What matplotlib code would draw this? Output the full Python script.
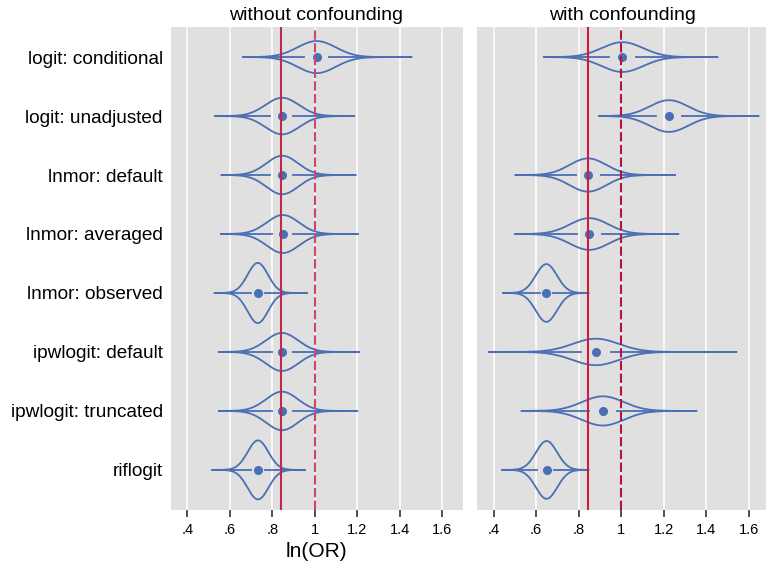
import numpy as np
import matplotlib
matplotlib.use("Agg")
import matplotlib.pyplot as plt

plt.rcParams['font.family'] = ['Liberation Sans', 'DejaVu Sans']

# ---------------- data ----------------
methods = ["logit: conditional", "logit: unadjusted", "lnmor: default",
           "lnmor: averaged", "lnmor: observed", "ipwlogit: default",
           "ipwlogit: truncated", "riflogit"]
panel_titles = ["without confounding", "with confounding"]

# without confounding
wo_median = [1.008, 0.846, 0.846, 0.849, 0.731, 0.845, 0.845, 0.732]
wo_q1     = [0.950, 0.789, 0.790, 0.796, 0.698, 0.796, 0.796, 0.700]
wo_q3     = [1.068, 0.898, 0.895, 0.898, 0.765, 0.896, 0.896, 0.767]
wo_lo     = [0.663, 0.529, 0.561, 0.559, 0.528, 0.548, 0.548, 0.515]
wo_hi     = [1.454, 1.183, 1.191, 1.202, 0.961, 1.207, 1.199, 0.953]
wo_sd     = [0.090, 0.079, 0.075, 0.076, 0.048, 0.076, 0.075, 0.049]

# with confounding
wc_median = [1.006, 1.225, 0.844, 0.850, 0.648, 0.881, 0.914, 0.649]
wc_q1     = [0.943, 1.166, 0.786, 0.790, 0.617, 0.809, 0.849, 0.605]
wc_q3     = [1.071, 1.285, 0.904, 0.908, 0.681, 0.954, 0.982, 0.684]
wc_lo     = [0.637, 0.896, 0.503, 0.502, 0.444, 0.378, 0.532, 0.441]
wc_hi     = [1.453, 1.646, 1.253, 1.269, 0.846, 1.542, 1.354, 0.846]
wc_sd     = [0.097, 0.091, 0.087, 0.091, 0.050, 0.109, 0.099, 0.050]

true_value = 0.842
null_value = 1.0

xticks = [0.4, 0.6, 0.8, 1.0, 1.2, 1.4, 1.6]
xticklabels = [".4", ".6", ".8", "1", "1.2", "1.4", "1.6"]

# ---------------- styling ----------------
BLUE = '#4a6fb5'
BG = '#e0e0e0'
W, H = 766, 564
fig = plt.figure(figsize=(W / 100, H / 100), dpi=100)

ax_w = 292 / W
ax_b = 1 - 510 / H
ax_h = 483 / H
ax1 = fig.add_axes([170.5 / W, ax_b, ax_w, ax_h])
ax2 = fig.add_axes([476.7 / W, ax_b, ax_w, ax_h])

area_scale = 0.0245  # violin half-height (row units) * sd

panels = [
    (ax1, wo_median, wo_q1, wo_q3, wo_lo, wo_hi, wo_sd, '#c0294c', '#d0456a'),
    (ax2, wc_median, wc_q1, wc_q3, wc_lo, wc_hi, wc_sd, '#cf1c3d', '#b3143f'),
]

for i, (ax, med, q1, q3, lo, hi, sd, solid_c, dash_c) in enumerate(panels):
    ax.set_facecolor(BG)
    for s in ax.spines.values():
        s.set_visible(False)
    ax.set_xlim(0.32, 1.695)
    ax.set_ylim(8.68, 0.49)
    ax.set_xticks(xticks)
    ax.set_xticklabels(xticklabels, fontsize=10.5)
    ax.tick_params(axis='x', direction='out', length=5, width=1.2,
                   color='#333333', pad=4)
    ax.xaxis.grid(True, color='white', linewidth=1.1)
    ax.yaxis.grid(False)
    ax.set_axisbelow(True)
    ax.set_yticks(np.arange(1, len(methods) + 1))
    if i == 0:
        ax.set_yticklabels(methods, fontsize=13.7)
        ax.tick_params(axis='y', length=0, pad=5.5)
        ax.set_xlabel("ln(OR)", fontsize=15, labelpad=4)
    else:
        ax.set_yticklabels([])
        ax.tick_params(axis='y', length=0)
    ax.set_title(panel_titles[i], fontsize=14, pad=5)

    for k in range(len(methods)):
        pos = k + 1
        xs = np.linspace(lo[k], hi[k], 400)
        half = (area_scale / sd[k]) * np.exp(-0.5 * ((xs - med[k]) / sd[k]) ** 2)
        ax.plot(xs, pos - half, color=BLUE, lw=1.3, zorder=3)
        ax.plot(xs, pos + half, color=BLUE, lw=1.3, zorder=3)
        ax.plot([lo[k], q1[k]], [pos, pos], color=BLUE, lw=1.3, zorder=3)
        ax.plot([q3[k], hi[k]], [pos, pos], color=BLUE, lw=1.3, zorder=3)
        ax.plot([med[k]], [pos], 'o', color=BLUE, ms=5.5, zorder=4)

    ax.axvline(true_value, color=solid_c, lw=1.5, zorder=5)
    ax.axvline(null_value, color=dash_c, lw=1.5, dashes=(4.5, 1.6), zorder=5)

fig.savefig("out.png", dpi=100, facecolor='white')
